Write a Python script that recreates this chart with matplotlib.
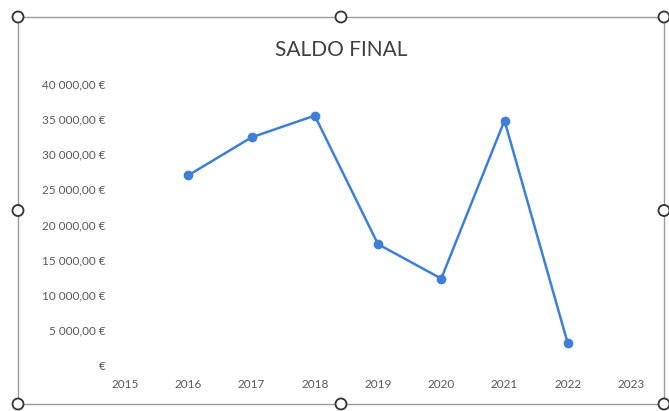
import matplotlib
matplotlib.use("Agg")
import matplotlib.pyplot as plt
from matplotlib.patches import Circle

# Year-end balance
years = [2016, 2017, 2018, 2019, 2020, 2021, 2022]
saldo = [27000, 32400, 35500, 17200, 12300, 34800, 3100]

x_ticks = list(range(2015, 2024))
y_ticks = list(range(0, 40001, 5000))

chart_title = "SALDO FINAL"
line_color = "#3F7FD4"
text_color = "#595959"
font = ["Lato", "DejaVu Sans"]


def euro(v):
    if v == 0:
        return "€"
    s = f"{v:,.2f}".replace(",", " ").replace(".", ",")
    return f"{s} €"


W, H = 669, 411
fig = plt.figure(figsize=(W / 100, H / 100), dpi=100)
fig.patch.set_facecolor("white")

ax = fig.add_axes([125 / W, 1 - 365 / H, (631 - 125) / W, (365 - 84) / H])
ax.plot(years, saldo, color=line_color, lw=1.8, marker="o", ms=6,
        markerfacecolor=line_color, markeredgecolor=line_color, zorder=3)
ax.set_xlim(x_ticks[0], x_ticks[-1])
ax.set_ylim(y_ticks[0], y_ticks[-1])
ax.set_xticks(x_ticks)
ax.set_xticklabels([str(t) for t in x_ticks], fontsize=8.5,
                   color=text_color, family=font)
ax.set_yticks(y_ticks)
ax.set_yticklabels([euro(t) for t in y_ticks], fontsize=8.5,
                   color=text_color, family=font)
ax.tick_params(length=0, pad=14)
ax.tick_params(axis="x", pad=10)
for s in ax.spines.values():
    s.set_visible(False)

fig.text(341 / W, 1 - 50 / H, chart_title, ha="center", va="center",
         fontsize=15, color="#404040", family=font)

# Selection frame with resize handles around the chart object
ov = fig.add_axes([0, 0, 1, 1], zorder=5)
ov.set_xlim(0, W)
ov.set_ylim(H, 0)
ov.axis("off")
ov.patch.set_alpha(0)
fl, fr, ft, fb = 18, 664, 17, 404
frame_kw = dict(color="#9a9a9a", lw=1.0)
ov.plot([fl, fr], [ft, ft], **frame_kw)
ov.plot([fl, fr], [fb, fb], **frame_kw)
ov.plot([fl, fl], [ft, fb], **frame_kw)
ov.plot([fr, fr], [ft, fb], **frame_kw)
mx, my = (fl + fr) / 2, (ft + fb) / 2
for cx, cy in [(fl, ft), (mx, ft), (fr, ft), (fl, my), (fr, my),
               (fl, fb), (mx, fb), (fr, fb)]:
    ov.add_patch(Circle((cx, cy), 5.5, facecolor="white",
                        edgecolor="#333333", lw=1.3, zorder=6))

fig.savefig("out.png", dpi=100)
